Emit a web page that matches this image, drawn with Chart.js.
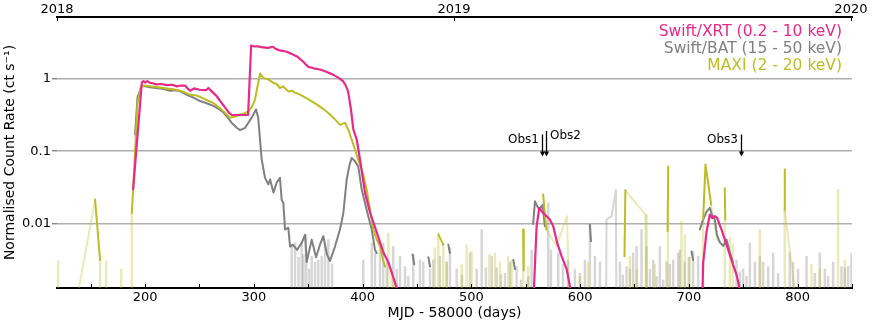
<!DOCTYPE html>
<html><head><meta charset="utf-8">
<script src="https://cdn.jsdelivr.net/npm/chart.js@4.4.1/dist/chart.umd.min.js"></script>
<style>html,body{margin:0;padding:0;background:#fff}#wrap{width:872px;height:329px}</style>
</head><body><div id="wrap"><canvas id="c" width="872" height="329"></canvas></div>
<script>
// ---------- DATA (MJD - 58000, normalised count rate) ----------
const xrtDay = [189.0,197.0,198.5,200.0,202.0,204.6,207.0,210.1,215.0,220.0,225.0,229.1,233.0,236.8,239.0,241.4,245.0,250.0,256.0,258.2,262.0,265.9,270.0,273.5,277.0,279.7,287.0,294.7,297.5,300.5,303.9,308.5,313.0,317.6,320.0,324.0,330.5,339.7,345.2,349.8,355.0,360.8,366.0,372.8,378.0,382.0,384.5,386.6,389.3,391.5,394.6,397.6,402.2,406.8,413.0,419.0,423.6,431.3,433.0,
  500,
  557.1,560.0,562.4,564.6,567.6,572.2,575.3,578.9,583.0,587.6,591.5,
  650,
  712.4,713.1,716.3,719.3,721.4,723.9,726.0,730.0,734.6,739.2,743.8,747.2];
const xrtRate = [0.030,0.88,0.92,0.88,0.92,0.87,0.86,0.83,0.84,0.81,0.82,0.78,0.80,0.80,0.73,0.68,0.73,0.70,0.69,0.74,0.65,0.57,0.47,0.40,0.34,0.315,0.315,0.315,2.84,2.75,2.76,2.67,2.63,2.73,2.55,2.43,2.33,2.01,1.71,1.45,1.38,1.33,1.25,1.13,1.02,0.92,0.80,0.67,0.375,0.199,0.145,0.077,0.027,0.0144,0.0077,0.0041,0.0030,0.00134,0.0009,
  null,
  0.0009,0.0093,0.0166,0.0150,0.0135,0.0115,0.0093,0.0055,0.0036,0.0024,0.0012,
  null,
  0.0009,0.0029,0.0079,0.0135,0.0121,0.0128,0.0121,0.0084,0.0052,0.0032,0.0020,0.0012];

const batDay = [190.8,193.0,197.0,200.0,204.6,210.0,213.8,218.0,223.0,229.0,233.0,238.0,244.0,250.5,256.0,262.8,268.0,272.0,276.0,279.7,284.3,287.3,292.0,298.0,302.0,304.0,307.2,310.3,313.3,315.0,318.0,321.0,324.0,325.6,327.1,328.7,331.7,333.3,335.8,339.7,344.0,347.1,348.6,353.2,357.2,360.8,363.9,367.3,370.0,374.6,379.2,382.3,385.4,388.0,390.0,393.0,396.0,399.2,402.2,405.2,408.4,411.4,413.0,
  430,446.0,447.5,455,460.5,462.0,470,478.8,480.3,500,538.6,540.1,550,
  556.8,558.5,560.6,562.4,565.5,567.6,590,609.0,610.0,650,702.4,703.9,707,
  710.1,713.1,716.3,719.3,721.1,723.9,725.8,728.5,731.6,734.6,737.7,740.4];
const batRate = [0.17,0.55,0.80,0.78,0.76,0.74,0.73,0.71,0.68,0.69,0.66,0.60,0.55,0.49,0.46,0.42,0.38,0.34,0.29,0.245,0.21,0.195,0.21,0.29,0.375,0.29,0.077,0.043,0.035,0.041,0.027,0.037,0.043,0.0216,0.0195,0.0084,0.0089,0.0049,0.0052,0.0044,0.0055,0.0071,0.0030,0.0061,0.0035,0.0052,0.0068,0.0038,0.0031,0.0049,0.0084,0.0142,0.041,0.065,0.081,0.073,0.062,0.0297,0.0195,0.0128,0.0084,0.0044,0.0040,
  null,0.0038,0.0028,null,0.0035,0.0026,null,0.0052,0.0040,null,0.0032,0.0024,null,
  0.0100,0.0205,0.0175,0.0158,0.0184,0.0093,null,0.0098,0.0058,null,0.0042,0.0032,null,
  0.0084,0.0115,0.0148,0.0167,0.0135,0.0115,0.0071,0.0056,0.0050,0.0061,0.0041,0.0030];

const maxiDay = [154.0,158.6,170,
  187.8,189.0,193.0,196.0,200.0,204.6,212.0,220.0,226.0,232.0,237.0,241.0,246.0,250.5,256.0,262.8,268.0,272.0,278.0,283.0,287.3,291.0,295.0,298.0,301.0,305.7,308.7,313.3,318.0,321.0,324.0,327.0,331.7,334.8,338.0,342.5,350.0,357.8,364.0,370.0,375.0,379.2,383.8,386.9,391.5,396.0,400.6,403.9,405.2,407.5,409.8,413.0,416.0,419.0,420.6,
  440,469.6,474.2,500,547.7,548.1,555,566.0,569.0,600,640.8,641.6,660,680.5,681.0,700,
  713.1,715.3,720.5,725,733.0,733.5,760,787.9,788.2];
const maxiRate = [0.0217,0.0032,null,
  0.0142,0.0297,0.45,0.77,0.80,0.78,0.76,0.73,0.71,0.68,0.64,0.60,0.59,0.56,0.51,0.46,0.40,0.355,0.288,0.30,0.32,0.33,0.355,0.40,0.51,1.17,1.02,0.97,0.87,0.84,0.74,0.78,0.66,0.68,0.64,0.60,0.52,0.44,0.38,0.32,0.27,0.23,0.246,0.198,0.124,0.077,0.048,0.029,0.0217,0.014,0.0084,0.0061,0.0050,0.0031,0.0026,
  null,0.0072,0.0052,null,0.0084,0.0023,null,0.0255,0.0084,null,0.0036,0.029,null,0.0080,0.061,null,
  0.0115,0.066,0.0185,null,0.031,0.0115,null,0.0158,0.056];

// low-significance (faint) parts: slanted segments and single-point spikes
const maxiFaintDay  = [134.1,154.0,400,569.0,578.2,588.0,589.0,590.0,620,641.6,660.1,660.6,700,720.5,726.0,760,788.2,800.4];
const maxiFaintRate = [0.0005,0.0217,null,0.0084,0.0050,0.0128,0.0036,0.0005,null,0.029,0.0135,0.0005,null,0.0185,0.0060,null,0.0158,0.0005];
const batFaintDay  = [623.8,624.3,628.9,632.9,633.4];
const batFaintRate = [0.0005,0.0115,0.0128,0.0292,0.0005];

const batSpikeDay = [334.8,337.9,341.1,344.0,345.5,348.0,350.7,353.2,356.3,359.3,362.4,365.4,368.5,371.9,
  400.6,408.4,411.4,416.0,419.0,422.2,428.2,431.3,434.4,439.0,442.0,446.6,452.8,455.8,462.0,465.0,471.1,477.3,480.3,486.5,491.4,498.7,504.9,
  509.5,513.4,518.7,523.3,527.2,530.9,535.5,541.6,545.6,552.3,555.4,570.7,573.2,579.9,584.2,588.8,595.2,599.8,604.4,609.0,613.6,618.2,
  636.6,639.3,642.7,645.8,648.8,651.9,656.5,661.1,664.2,667.2,670.3,673.3,676.4,679.5,682.5,685.6,690.2,
  691.7,696.3,699.9,703.9,708.5,743.8,746.9,749.9,753.0,756.1,760.7,765.3,768.3,772.9,777.5,782.1,
  792.8,795.8,800.4,808.2,815.8,820.4,825.0,828.0,832.6,840.3,843.4,846.4,849.5];
const batSpikeRate = [0.0052,0.0055,0.0035,0.0055,0.0038,0.0071,0.0024,0.0036,0.0030,0.0032,0.0036,0.0052,0.0061,0.0028,
  0.0032,0.0055,0.0040,0.0044,0.0055,0.0032,0.0049,0.0024,0.0036,0.0026,0.0019,0.0038,0.0032,0.0030,0.0024,0.0032,0.0036,0.0030,0.0047,0.0024,0.0020,0.0040,0.0024,
  0.0084,0.0025,0.0036,0.0025,0.0020,0.0021,0.0030,0.0026,0.0017,0.0019,0.0044,0.0195,0.0044,0.0040,0.0028,0.0032,0.0024,0.0021,0.0032,0.0098,0.0036,0.0030,
  0.0030,0.0020,0.0026,0.0024,0.0040,0.0049,0.0084,0.0049,0.0024,0.0032,0.0019,0.0049,0.0017,0.0030,0.0028,0.0032,0.0040,
  0.0044,0.0030,0.0035,0.0042,0.0036,0.0032,0.0022,0.0024,0.0019,0.0055,0.0030,0.0036,0.0030,0.0026,0.0040,0.0021,
  0.0040,0.0030,0.0024,0.0036,0.0021,0.0040,0.0024,0.0019,0.0030,0.0026,0.0025,0.0026,0.0040];

const maxiSpikeDay = [120.0,158.6,164.2,178.0,187.8,
  423.6,426.7,429.8,466.5,469.6,474.2,477.3,491.1,495.7,500.3,
  516.5,521.7,526.3,533.9,537.0,547.7,552.3,599.8,607.2,645.8,652.2,661.1,668.7,680.7,
  693.2,696.3,700.9,713.1,733.0,737.7,740.4,765.3,788.2,812.8,820.4,837.2,843.4];
const maxiSpikeRate = [0.0031,0.0032,0.0031,0.0024,0.0142,
  0.0075,0.0024,0.0017,0.0047,0.0072,0.0052,0.0030,0.0028,0.0052,0.0042,
  0.0038,0.0040,0.0030,0.0036,0.0032,0.0084,0.0026,0.0019,0.0030,0.0036,0.0024,0.0135,0.0028,0.0105,
  0.0110,0.0071,0.0035,0.0115,0.0115,0.0065,0.0052,0.0084,0.0158,0.0028,0.0024,0.0297,0.0032];

// axes
const xTickDays = [200,300,400,500,600,700,800];
const xTickMarkDays = [150,200,250,300,350,400,450,500,550,600,650,700,750,800,850];
const yearTickDays = [119,484,849];
const yearLabels = ['2018','2019','2020'];
const yTickVals = [0.01,0.1,1];
const yTickLabels = ['0.01','0.1','1'];

// legend + annotations
const legendLabels = ['Swift/XRT (0.2 - 10 keV)','Swift/BAT (15 - 50 keV)','MAXI (2 - 20 keV)'];
const obsDay = [564.6,568.6,747.8];
const obsLabels = ['Obs1','Obs2','Obs3'];
const obsTopRate = [0.17,0.19,0.17];
const obsTipRate = 0.085;

// ---------- STYLE ----------
const PINK = '#e7298a', GREY = '#808080', OLIVE = '#bcbd22';
const GREY_F = 'rgba(128,128,128,0.32)', OLIVE_F = 'rgba(188,189,34,0.32)';
const legendColors = [PINK, GREY, OLIVE];
const FONT = '"DejaVu Sans", sans-serif';
Chart.defaults.font.family = FONT;
Chart.defaults.color = '#000';

const pts = (d, r) => d.map((v, i) => ({x: v, y: r[i]}));

const decor = {
  id: 'decor',
  afterDatasetsDraw(chart) {
    const ctx = chart.ctx, xs = chart.scales.x, ys = chart.scales.y;
    ctx.save();
    ctx.fillStyle = '#000'; ctx.strokeStyle = '#000';
    ctx.font = '12px ' + FONT;
    obsDay.forEach((d, i) => {
      const px = Math.round(xs.getPixelForValue(d)) + 0.5;
      const top = ys.getPixelForValue(obsTopRate[i]);
      const tip = ys.getPixelForValue(obsTipRate);
      ctx.lineWidth = 1.3;
      ctx.beginPath(); ctx.moveTo(px, top); ctx.lineTo(px, tip - 4); ctx.stroke();
      ctx.beginPath(); ctx.moveTo(px - 2.6, tip - 5); ctx.lineTo(px + 2.6, tip - 5); ctx.lineTo(px, tip); ctx.closePath(); ctx.fill();
      const right = i === 1;
      ctx.textAlign = right ? 'left' : 'right';
      ctx.textBaseline = 'alphabetic';
      ctx.fillText(obsLabels[i], right ? px + 3.5 : px - 3.5, top + 8.5);
    });
    ctx.restore();
  },
  afterDraw(chart) {
    const ctx = chart.ctx, xs = chart.scales.x, xt = chart.scales.xTop, a = chart.chartArea;
    ctx.save();
    ctx.strokeStyle = '#000'; ctx.lineWidth = 1;
    xTickMarkDays.forEach(d => {
      const px = Math.round(xs.getPixelForValue(d)) + 0.5;
      ctx.beginPath(); ctx.moveTo(px, a.bottom); ctx.lineTo(px, a.bottom - 4); ctx.stroke();
    });
    yearTickDays.forEach(d => {
      const px = Math.round(xt.getPixelForValue(d)) + 0.5;
      ctx.beginPath(); ctx.moveTo(px, a.top); ctx.lineTo(px, a.top + 4); ctx.stroke();
    });
    ctx.font = '15.5px ' + FONT;
    ctx.textAlign = 'right'; ctx.textBaseline = 'alphabetic';
    legendLabels.forEach((t, i) => { ctx.fillStyle = legendColors[i]; ctx.fillText(t, 842, 36.3 + i * 17); });
    ctx.restore();
  }
};

new Chart(document.getElementById('c'), {
  type: 'line',
  data: { datasets: [
    {label: 'Swift/XRT', data: pts(xrtDay, xrtRate), borderColor: PINK, borderWidth: 2.2, spanGaps: false, order: 0},
    {label: 'MAXI', data: pts(maxiDay, maxiRate), borderColor: OLIVE, borderWidth: 2, spanGaps: false, order: 1},
    {label: 'Swift/BAT', data: pts(batDay, batRate), borderColor: GREY, borderWidth: 2, spanGaps: false, order: 2},
    {label: 'MAXI low', data: pts(maxiFaintDay, maxiFaintRate), borderColor: OLIVE_F, borderWidth: 2, spanGaps: false, order: 3},
    {label: 'BAT low', data: pts(batFaintDay, batFaintRate), borderColor: GREY_F, borderWidth: 2, spanGaps: false, order: 4},
    {type: 'bar', label: 'MAXI spikes', data: pts(maxiSpikeDay, maxiSpikeRate), backgroundColor: OLIVE_F, barThickness: 1.8, grouped: false, order: 5},
    {type: 'bar', label: 'BAT spikes', data: pts(batSpikeDay, batSpikeRate), backgroundColor: GREY_F, barThickness: 1.8, grouped: false, order: 6}
  ]},
  options: {
    responsive: false, animation: false, devicePixelRatio: 1,
    layout: {padding: {left: 0, right: 20, top: 0, bottom: 0}},
    plugins: {legend: {display: false}, tooltip: {enabled: false}},
    elements: {point: {radius: 0}, line: {tension: 0, borderJoinStyle: 'round', borderCapStyle: 'round'}},
    scales: {
      x: {
        type: 'linear', position: 'bottom', min: 119, max: 850, offset: false,
        afterBuildTicks: s => { s.ticks = xTickDays.map(v => ({value: v})); },
        afterFit: s => { s.height = 41; },
        ticks: {font: {size: 13}, color: '#000', padding: 2, maxRotation: 0, autoSkip: false, callback: v => String(v)},
        grid: {display: false, drawTicks: false},
        border: {display: true, color: '#000', width: 2},
        title: {display: true, text: 'MJD - 58000 (days)', font: {size: 14}, color: '#000', padding: {top: 0, bottom: 7}}
      },
      xTop: {
        type: 'linear', position: 'top', min: 119, max: 850, offset: false,
        afterBuildTicks: s => { s.ticks = yearTickDays.map(v => ({value: v})); },
        afterFit: s => { s.height = 17; },
        ticks: {font: {size: 13}, color: '#000', padding: 0, maxRotation: 0, autoSkip: false,
          callback: v => yearLabels[yearTickDays.indexOf(v)]},
        grid: {display: false, drawTicks: false},
        border: {display: true, color: '#000', width: 2}
      },
      y: {
        type: 'logarithmic', position: 'left', min: 0.00132, max: 7,
        afterBuildTicks: s => { s.ticks = yTickVals.map(v => ({value: v})); },
        afterFit: s => { s.width = 57; },
        ticks: {font: {size: 13}, color: '#000', padding: 1, autoSkip: false,
          callback: v => yTickLabels[yTickVals.indexOf(v)]},
        grid: {color: '#b0b0b0', lineWidth: 1.6, tickColor: '#555', tickLength: 5, tickWidth: 1},
        border: {display: false},
        title: {display: true, text: 'Normalised Count Rate (ct s⁻¹)', font: {size: 14}, color: '#000', padding: {top: 2, bottom: 0}}
      }
    }
  },
  plugins: [decor]
});
</script>
</body></html>
